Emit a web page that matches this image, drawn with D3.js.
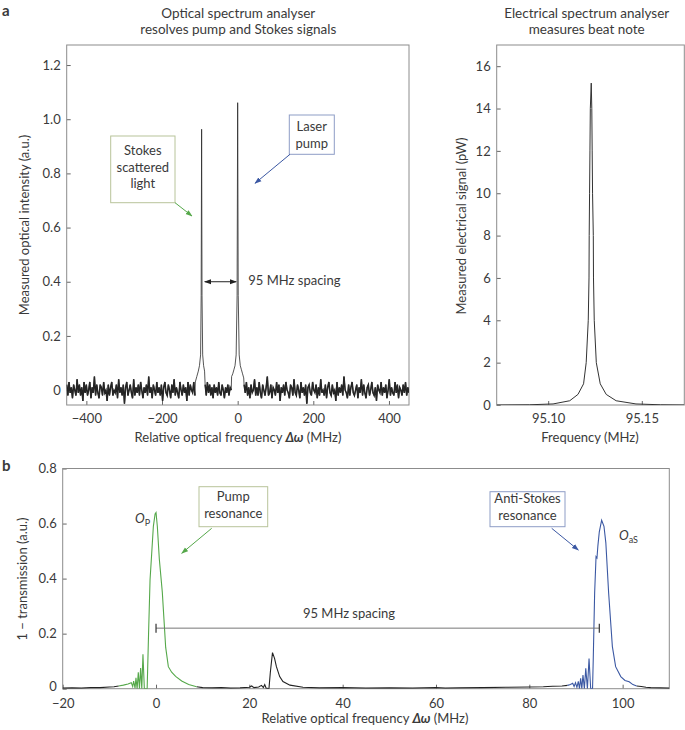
<!DOCTYPE html>
<html><head><meta charset="utf-8">
<script src="https://cdn.jsdelivr.net/npm/d3@7"></script>
<style>
body{margin:0;background:#fff;}
text{font-family:Lato,"Open Sans",sans-serif;fill:#3a3a3a;}
</style></head>
<body><svg id="c" width="685" height="730"></svg>
<script>
// ---------- DATA ----------
// Panel a (left): optical spectrum analyser, noise floor samples (units of 0.01 a.u.)
const osaNoiseLeft = [2,-2,3,-1,1,-3,2,0,-2,4,-1,2,-2,1,-4,3,-1,2,-2,0,3,-3,1,-1,5,-2,2,-1,-3,2,1,-2,3,-1,0,-4,2,-2,1,3,-2,0,-1,2,-3,4,-1,1,-2,2,-5,1,3,-2,0,2,-1,-3,4,-2,1,-1,2,-2,3,0,-3,1,-1,2,-2,5,-1,1,-3,2,0,-2,3,-1,1,-2,2,-4,1,3,-1,-2,2,0,-3,2,-1,4,-2,1,-1,-3,3,0,-2,2,-1,1,-4,3,-2,2,0,-1,3,-2];
const osaNoiseMid = [2,-2,3,-1,2,-2,1,-3,2,-1,1,-2,3,-1,-2,2,0,-3,1,-1,2,-2,1,0];
const osaNoiseRight = [2,-1,3,-2,1,-3,2,-1,0,4,-2,1,-2,3,-1,-3,2,0,-2,1,5,-2,-1,2,-3,1,0,-2,3,-1,2,-4,1,-1,2,-2,3,0,-1,-3,2,1,-2,4,-1,-2,2,0,-3,3,-1,1,-2,2,-5,1,2,-1,-2,3,0,-1,2,-3,1,-2,4,-1,0,-2,2,-3,1,3,-1,-2,2,-1,0,-4,3,-2,1,-1,2,-2,5,0,-1,-3,2,-2,1,3,-1,-2,0,2,-3,1,-1,4,-2,2,-1,-3,1,2,-2,0,3,-1,-2,1,-4,2,0,-1,3,-2,1,-1,2,-3,0,4,-2,1,-1,-2,3,-1,2,-3,1,0,-2,2,-1,3,-2,1,-1];
const osaNoiseRanges = [[-452,-113],[-86,-17],[17,453]];
const stokesX = [-112,-108,-104,-101,-98,-96.5,-95.3,-94.2,-92.5,-90,-87.5];
const stokesY = [0.03,0.05,0.07,0.09,0.13,0.35,0.963,0.35,0.13,0.09,0.07];
const pumpX = [-16,-13,-10,-7,-4,-1.5,0,1.5,4,7,10,13,16];
const pumpY = [0.05,0.06,0.075,0.09,0.13,0.35,1.061,0.35,0.13,0.09,0.075,0.06,0.045];
const osaXTicks = [-400,-200,0,200,400];
const osaYTicks = [0,0.2,0.4,0.6,0.8,1.0,1.2];

// Panel a (right): electrical spectrum analyser beat note
const esaFreq = [95.0725,95.090,95.1026,95.1115,95.1159,95.1189,95.1203,95.1214,95.1218,95.1219,95.1221,95.1223,95.1225,95.1230,95.1233,95.1235,95.1237,95.1241,95.1242,95.1246,95.1257,95.1278,95.1310,95.1363,95.1469,95.160,95.1727];
const esaPower = [0,0.01,0.05,0.2,0.5,1,2,4,6,8,10,12,14,15.2,14,12,10,8,6,4,2,1,0.5,0.2,0.05,0.01,0];
const esaXTicks = [95.10,95.15];
const esaYTicks = [0,2,4,6,8,10,12,14,16];

// Panel b: 1 - transmission
const baseLeftX = [-20,-18,-16,-14,-12,-10,-9,-8];
const baseLeftY = [0.002,0.003,0.002,0.004,0.004,0.006,0.007,0.01];
const pumpResX = [-8,-7,-6,-5.3,-5.0,-4.8,-4.5,-4.3,-4.05,-3.8,-3.55,-3.3,-3.05,-2.8,-2.5,-2.2,-1.9,-1.6,-1.28,-0.93,-0.57,-0.2,0,0.28,0.71,1.35,1.71,2.07,2.64,3.35,4.2,5.5,7.0,8.7];
const pumpResY = [0.01,0.013,0.017,0.022,0.008,0.028,0.002,0.04,0,0.06,0,0.075,0,0.125,0,0,0,0.2,0.396,0.49,0.59,0.635,0.64,0.59,0.47,0.35,0.25,0.15,0.08,0.06,0.045,0.028,0.015,0.007];
const baseMidX = [8.7,10,12,14,16,18,20,20.5,21,22,22.6,23,23.3,23.6,24.2,24.5,24.96,25.4,25.8,26.5,27.2,28.7,31.5,35,40,45,50,55,60,62,65,70,75,80,83,85,87,88.2];
const baseMidY = [0.007,0.004,0.003,0.004,0.002,0.003,0.005,0.01,0.004,0.006,0.012,0.004,0.015,0.002,0,0.06,0.131,0.11,0.08,0.044,0.026,0.013,0.005,0.003,0.004,0.002,0.003,0.002,0.004,0.002,0.003,0.004,0.005,0.006,0.007,0.009,0.01,0.012];
const antiStokesX = [88.2,88.8,89.3,89.6,89.9,90.2,90.5,90.75,91.0,91.25,91.5,91.8,92.1,92.45,92.8,93.15,93.55,93.7,94.0,94.3,94.5,94.7,95.0,95.5,96.0,96.4,97.0,97.5,97.8,98.5,99.6,100.5,101.4,102.2,103.0];
const antiStokesY = [0.012,0.015,0.02,0.008,0.022,0.005,0.027,0,0.038,0,0.05,0,0.074,0,0.11,0,0,0.105,0.348,0.48,0.475,0.52,0.57,0.612,0.59,0.53,0.348,0.226,0.153,0.08,0.044,0.03,0.025,0.015,0.01];
const baseRightX = [103,104,105,106,108,110];
const baseRightY = [0.01,0.008,0.005,0.004,0.003,0.002];
const bXTicks = [-20,0,20,40,60,80,100];
const bYTicks = [0,0.2,0.4,0.6,0.8];
const spacingFrom = 0, spacingTo = 95, spacingLevel = 0.22;

// ---------- DRAW ----------
const svg = d3.select("#c");
const FRAME = "#8c8c8c", GREEN = "#55a84a", BLUE = "#3b58a3", BOXG = "#b8c49a", BOXB = "#8e9dc6";
const defs = svg.append("defs");
function marker(id, color){
  defs.append("marker").attr("id",id).attr("viewBox","0 0 10 10").attr("refX",9).attr("refY",5)
    .attr("markerWidth",7).attr("markerHeight",7).attr("orient","auto-start-reverse")
    .append("path").attr("d","M0,1.5 L10,5 L0,8.5 Z").attr("fill",color);
}
marker("mg",GREEN); marker("mb",BLUE); marker("mk","#222");

function panel(id, x, y, xTicks, yTicks, xFmt, yFmt, xPad){
  const [x0,x1] = x.range(), [y0,y1] = y.range();
  defs.append("clipPath").attr("id",id).append("rect").attr("x",x0).attr("y",y1).attr("width",x1-x0).attr("height",y0-y1);
  const gx = svg.append("g").attr("transform",`translate(0,${y0})`)
    .call(d3.axisBottom(x).tickValues(xTicks).tickFormat(xFmt).tickSize(-4).tickPadding(xPad));
  const gy = svg.append("g").attr("transform",`translate(${x0},0)`)
    .call(d3.axisLeft(y).tickValues(yTicks).tickFormat(yFmt).tickSize(-4).tickPadding(6));
  [gx,gy].forEach(g=>{
    g.select(".domain").remove();
    g.selectAll(".tick line").attr("stroke","#666");
    g.selectAll(".tick text").style("font-family","Lato,'Open Sans',sans-serif").style("font-size","13px").attr("fill","#3a3a3a");
  });
  svg.append("rect").attr("x",x0).attr("y",y1).attr("width",x1-x0).attr("height",y0-y1)
    .attr("fill","none").attr("stroke",FRAME).attr("stroke-width",1);
  return {plot: svg.append("g").attr("clip-path",`url(#${id})`), gx, gy};
}
const minus = s => s.replace("-","\u2212");

// ---- Panel a left ----
const xA = d3.scaleLinear().domain([-452,453]).range([66.7,409]);
const yA = d3.scaleLinear().domain([-0.055,1.274]).range([405,45]);
const gA = panel("clA", xA, yA, osaXTicks, osaYTicks, d=>minus(String(d)), d=> d===0?"0":d3.format(".1f")(d), 9).plot;
function noiseSeg(vals, range){
  const step = (range[1]-range[0])/(vals.length-1);
  return vals.map((v,i)=>[range[0]+i*step, v/100]);
}
const lineA = d3.line().x(d=>xA(d[0])).y(d=>yA(d[1]));
const osaPts = [].concat(
  noiseSeg(osaNoiseLeft, osaNoiseRanges[0]),
  stokesX.map((v,i)=>[v,stokesY[i]]),
  noiseSeg(osaNoiseMid, osaNoiseRanges[1]),
  pumpX.map((v,i)=>[v,pumpY[i]]),
  noiseSeg(osaNoiseRight, osaNoiseRanges[2])
);
[0,1,2].forEach(k=>{
  const vals = [osaNoiseLeft,osaNoiseMid,osaNoiseRight][k];
  gA.append("path").datum(noiseSeg(vals, osaNoiseRanges[k])).attr("fill","none").attr("stroke","#1e1e1e").attr("stroke-width",1.5).attr("d",lineA);
});
gA.append("path").datum(osaPts).attr("fill","none").attr("stroke","#2a2a2a").attr("stroke-width",0.8).attr("d",lineA);

// annotations a-left
svg.append("text").attr("x",238.3).attr("y",17.5).attr("text-anchor","middle").style("font-size","13.5px").text("Optical spectrum analyser");
svg.append("text").attr("x",238.3).attr("y",34).attr("text-anchor","middle").style("font-size","13.5px").text("resolves pump and Stokes signals");
svg.append("text").attr("x",2).attr("y",16).style("font-size","15px").style("font-weight","bold").attr("fill","#222").text("a");
svg.append("rect").attr("x",110.7).attr("y",136).attr("width",64.3).attr("height",66.7).attr("fill","#fff").attr("stroke",BOXG);
["Stokes","scattered","light"].forEach((t,i)=>svg.append("text").attr("x",142.8).attr("y",155+i*16.5).attr("text-anchor","middle").style("font-size","13px").text(t));
svg.append("line").attr("x1",175).attr("y1",202.7).attr("x2",192).attr("y2",216).attr("stroke",GREEN).attr("stroke-width",1).attr("marker-end","url(#mg)");
svg.append("rect").attr("x",289.3).attr("y",115).attr("width",45).attr("height",39.3).attr("fill","#fff").attr("stroke",BOXB);
["Laser","pump"].forEach((t,i)=>svg.append("text").attr("x",311.8).attr("y",131+i*16.5).attr("text-anchor","middle").style("font-size","13px").text(t));
svg.append("line").attr("x1",290).attr("y1",154.3).attr("x2",255).attr("y2",183.3).attr("stroke",BLUE).attr("stroke-width",1).attr("marker-end","url(#mb)");
svg.append("line").attr("x1",xA(-95)+3).attr("y1",yA(0.4)).attr("x2",xA(0)-1.5).attr("y2",yA(0.4)).attr("stroke","#222").attr("stroke-width",1)
  .attr("marker-start","url(#mk)").attr("marker-end","url(#mk)");
svg.append("text").attr("x",248.3).attr("y",285).style("font-size","13px").text("95 MHz spacing");
svg.append("text").attr("transform","translate(29,225) rotate(-90)").attr("text-anchor","middle").style("font-size","13px").text("Measured optical intensity (a.u.)");
const xlA = svg.append("text").attr("x",238).attr("y",442).attr("text-anchor","middle").style("font-size","13px");
xlA.append("tspan").text("Relative optical frequency ");
xlA.append("tspan").style("font-style","italic").style("font-weight","bold").text("\u0394\u03C9");
xlA.append("tspan").text(" (MHz)");

// ---- Panel a right ----
const xE = d3.scaleLinear().domain([95.0725,95.1727]).range([496.7,684.3]);
const yE = d3.scaleLinear().domain([0,17]).range([405,45]);
const gE = panel("clE", xE, yE, esaXTicks, esaYTicks, d3.format(".2f"), d=>String(d), 9).plot;
gE.append("path").datum(esaFreq.map((f,i)=>[f,esaPower[i]])).attr("fill","none").attr("stroke","#333").attr("stroke-width",1)
  .attr("d", d3.line().x(d=>xE(d[0])).y(d=>yE(d[1])));
svg.append("text").attr("x",586.7).attr("y",18).attr("text-anchor","middle").style("font-size","13.5px").text("Electrical spectrum analyser");
svg.append("text").attr("x",586.7).attr("y",34).attr("text-anchor","middle").style("font-size","13.5px").text("measures beat note");
svg.append("text").attr("transform","translate(466,226) rotate(-90)").attr("text-anchor","middle").style("font-size","13px").text("Measured electrical signal (pW)");
svg.append("text").attr("x",590).attr("y",442).attr("text-anchor","middle").style("font-size","13px").text("Frequency (MHz)");

// ---- Panel b ----
const xB = d3.scaleLinear().domain([-20,110]).range([62.7,669.3]);
const yB = d3.scaleLinear().domain([0,0.8]).range([688.7,468.5]);
const pB = panel("clB", xB, yB, bXTicks, bYTicks, d=>minus(String(d)), d=> d===0?"0":d3.format(".1f")(d), 10);
const gB = pB.plot;
// lift the "0" y label a little so it clears the "−20" x label
pB.gy.selectAll(".tick").filter(d=>d===0).select("text").attr("dy","0.1em");
const lineB = d3.line().x(d=>xB(d[0])).y(d=>yB(d[1]));
const zipB = (xs,ys)=>xs.map((v,i)=>[v,ys[i]]);
const ySp = yB(spacingLevel);
svg.append("line").attr("x1",xB(spacingFrom)).attr("x2",xB(spacingTo)).attr("y1",ySp).attr("y2",ySp).attr("stroke","#777").attr("stroke-width",1);
[spacingFrom,spacingTo].forEach(v=>svg.append("line").attr("x1",xB(v)).attr("x2",xB(v)).attr("y1",ySp-4.5).attr("y2",ySp+4.5).attr("stroke","#333").attr("stroke-width",1.2));
svg.append("text").attr("x",349).attr("y",618).attr("text-anchor","middle").style("font-size","13px").text("95 MHz spacing");
[[baseLeftX,baseLeftY,"#222"],[baseMidX,baseMidY,"#222"],[baseRightX,baseRightY,"#222"],[pumpResX,pumpResY,GREEN],[antiStokesX,antiStokesY,BLUE]].forEach(([xs,ys,c])=>{
  gB.append("path").datum(zipB(xs,ys)).attr("fill","none").attr("stroke",c).attr("stroke-width",1.1).attr("d",lineB);
});
svg.append("text").attr("x",2).attr("y",471).style("font-size","15px").style("font-weight","bold").attr("fill","#222").text("b");
svg.append("rect").attr("x",199).attr("y",486.7).attr("width",68.7).attr("height",40).attr("fill","#fff").attr("stroke",BOXG);
["Pump","resonance"].forEach((t,i)=>svg.append("text").attr("x",233.3).attr("y",501+i*16.5).attr("text-anchor","middle").style("font-size","13px").text(t));
svg.append("line").attr("x1",211.7).attr("y1",528.3).attr("x2",181.7).attr("y2",553.3).attr("stroke",GREEN).attr("marker-end","url(#mg)");
svg.append("rect").attr("x",490).attr("y",491.7).attr("width",75).attr("height",35).attr("fill","#fff").attr("stroke",BOXB);
["Anti-Stokes","resonance"].forEach((t,i)=>svg.append("text").attr("x",527.5).attr("y",503+i*16.5).attr("text-anchor","middle").style("font-size","13px").text(t));
svg.append("line").attr("x1",551.7).attr("y1",528.3).attr("x2",578.3).attr("y2",550).attr("stroke",BLUE).attr("marker-end","url(#mb)");
const op = svg.append("text").attr("x",135).attr("y",523).style("font-size","13px");
op.append("tspan").style("font-style","italic").text("O");
op.append("tspan").attr("dy",3).style("font-size","9px").text("P");
const oas = svg.append("text").attr("x",619).attr("y",540).style("font-size","13px");
oas.append("tspan").style("font-style","italic").text("O");
oas.append("tspan").attr("dy",3).style("font-size","9px").text("aS");
svg.append("text").attr("transform","translate(27,579) rotate(-90)").attr("text-anchor","middle").style("font-size","13px").text("1 \u2212 transmission (a.u.)");
const xlB = svg.append("text").attr("x",365).attr("y",723).attr("text-anchor","middle").style("font-size","13px");
xlB.append("tspan").text("Relative optical frequency ");
xlB.append("tspan").style("font-style","italic").style("font-weight","bold").text("\u0394\u03C9");
xlB.append("tspan").text(" (MHz)");
</script></body></html>
